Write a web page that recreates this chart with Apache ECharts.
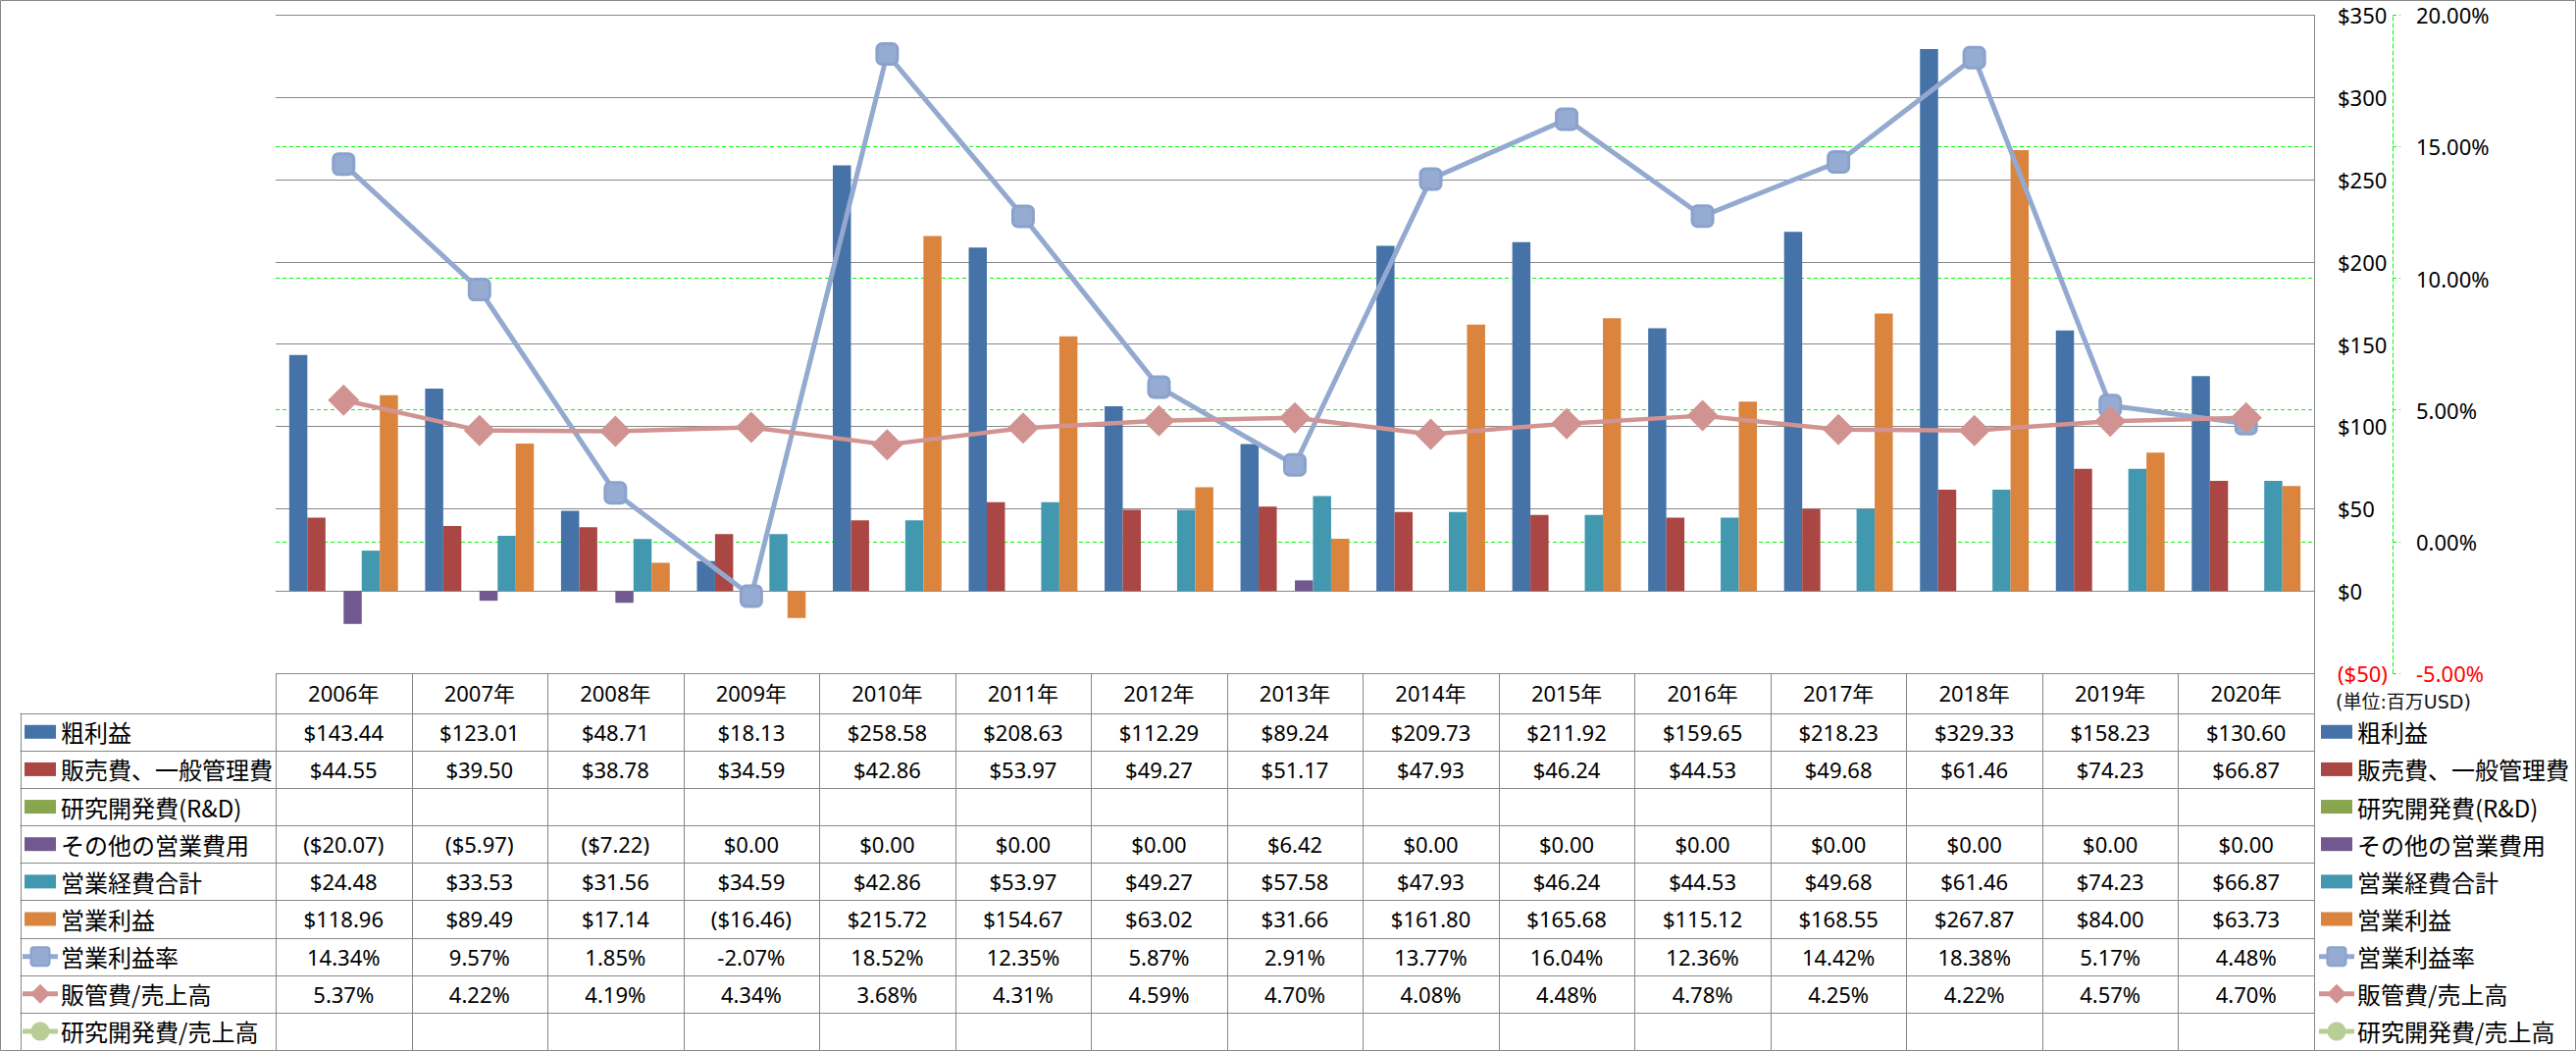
<!DOCTYPE html>
<html><head><meta charset="utf-8">
<script src="https://cdn.jsdelivr.net/npm/echarts@6/dist/echarts.min.js"></script>
<style>html,body{margin:0;padding:0;background:#fff}#c{width:2626px;height:1071px}</style>
</head><body><div id="c"></div>
<script>
// ---- data ----
const years = ['2006年','2007年','2008年','2009年','2010年','2011年','2012年','2013年','2014年','2015年','2016年','2017年','2018年','2019年','2020年'];
const grossProfit = [143.44,123.01,48.71,18.13,258.58,208.63,112.29,89.24,209.73,211.92,159.65,218.23,329.33,158.23,130.60];
const sgaExpense = [44.55,39.50,38.78,34.59,42.86,53.97,49.27,51.17,47.93,46.24,44.53,49.68,61.46,74.23,66.87];
const rndExpense = [null,null,null,null,null,null,null,null,null,null,null,null,null,null,null];
const otherOpex = [-20.07,-5.97,-7.22,0,0,0,0,6.42,0,0,0,0,0,0,0];
const totalOpex = [24.48,33.53,31.56,34.59,42.86,53.97,49.27,57.58,47.93,46.24,44.53,49.68,61.46,74.23,66.87];
const opIncome = [118.96,89.49,17.14,-16.46,215.72,154.67,63.02,31.66,161.80,165.68,115.12,168.55,267.87,84.00,63.73];
const opMargin = [14.34,9.57,1.85,-2.07,18.52,12.35,5.87,2.91,13.77,16.04,12.36,14.42,18.38,5.17,4.48];
const sgaRatio = [5.37,4.22,4.19,4.34,3.68,4.31,4.59,4.70,4.08,4.48,4.78,4.25,4.22,4.57,4.70];
const rndRatio = [null,null,null,null,null,null,null,null,null,null,null,null,null,null,null];
const seriesNames = ['粗利益','販売費、一般管理費','研究開発費(R&D)','その他の営業費用','営業経費合計','営業利益','営業利益率','販管費/売上高','研究開発費/売上高'];
const unitLabel = '(単位:百万USD)';
const dollarAxis = {min: -50, max: 350, interval: 50};
const pctAxis = {min: -5, max: 20, interval: 5};

// ---- layout / style ----
const W = 2626, H = 1071;
const gL = 281, gR = 2359, gT = 15.3, gB = 686;
const colW = (gR - gL) / years.length;
const tblTop = 686, hdrBottom = 726.7, rowH = (1070 - 726.7) / 9, labelLeft = 20.5;
const FONT = '"Noto Sans", "Noto Sans CJK JP", sans-serif';
const CJKFONT = '"Noto Sans CJK JP", "Noto Sans", sans-serif';
const UNITFONT = '"DejaVu Sans", "Noto Sans CJK JP", sans-serif';
const gridGray = '#888888';
const colors = ['#4572A7','#AA4643','#89A54E','#71588F','#4198AF','#DB843D','#93A9CF','#D09391','#B9CD96'];
const kinds = ['bar','bar','bar','bar','bar','bar','square','diamond','circle'];
const dataRows = [grossProfit, sgaExpense, rndExpense, otherOpex, totalOpex, opIncome, opMargin, sgaRatio, rndRatio];

function money(v){ if (v == null) return ''; return v < 0 ? '($' + Math.abs(v).toFixed(2) + ')' : '$' + v.toFixed(2); }
function pct(v){ return v == null ? '' : v.toFixed(2) + '%'; }
const fmts = [money,money,money,money,money,money,pct,pct,pct];

// ---- graphic: table + legend ----
const els = [];
const crisp = v => Math.round(v) + 0.5;
function hline(x1,x2,y){ els.push({type:'line', silent:true, shape:{x1:x1,y1:crisp(y),x2:x2,y2:crisp(y)}, style:{stroke:gridGray,lineWidth:1}, z:10}); }
function vline(x,y1,y2){ els.push({type:'line', silent:true, shape:{x1:crisp(x),y1:y1,x2:crisp(x),y2:y2}, style:{stroke:gridGray,lineWidth:1}, z:10}); }
function text(t,x,y,align,size,font,color){ els.push({type:'text', silent:true, z:11, style:{text:t,x:x,y:y,textAlign:align,textVerticalAlign:'middle',font:size+'px '+(font||FONT),fill:color||'#000'}}); }
function legendIcon(i, x0, cy){
  const c = colors[i];
  if (kinds[i] === 'bar') {
    els.push({type:'rect', silent:true, z:11, shape:{x:x0+2, y:cy-7, width:32, height:14}, style:{fill:c}});
  } else {
    els.push({type:'line', silent:true, z:11, shape:{x1:x0, y1:cy, x2:x0+36, y2:cy}, style:{stroke:c, lineWidth:5}});
    const mx = x0 + 18;
    if (kinds[i] === 'square') els.push({type:'rect', silent:true, z:12, shape:{x:mx-9.5,y:cy-9.5,width:19,height:19,r:3}, style:{fill:'#95ABD2', stroke:'#8AA2CC', lineWidth:2}});
    else if (kinds[i] === 'diamond') els.push({type:'polygon', silent:true, z:12, shape:{points:[[mx,cy-10],[mx+10,cy],[mx,cy+10],[mx-10,cy]]}, style:{fill:c}});
    else els.push({type:'circle', silent:true, z:12, shape:{cx:mx,cy:cy,r:9.5}, style:{fill:c}});
  }
}
// outer border
els.push({type:'rect', silent:true, z:9, shape:{x:0.5,y:0.5,width:W-1,height:H-1}, style:{fill:'none', stroke:gridGray, lineWidth:1}});
// table lines
hline(gL, gR, tblTop);
for (let i = 0; i <= 9; i++) hline(labelLeft, gR, hdrBottom + i*rowH);
vline(labelLeft, hdrBottom, 1070);
for (let j = 0; j <= years.length; j++) vline(gL + j*colW, tblTop, 1070);
// header
years.forEach((y, j) => text(y, gL + (j+0.5)*colW, (tblTop + hdrBottom)/2, 'center', 22));
// rows
for (let i = 0; i < 9; i++) {
  const cy = hdrBottom + (i+0.5)*rowH;
  legendIcon(i, 23, cy);
  text(seriesNames[i], 62, cy, 'left', 24, CJKFONT);
  dataRows[i].forEach((v, j) => text(fmts[i](v), gL + (j+0.5)*colW, cy, 'center', 22));
  // right legend
  legendIcon(i, 2364, cy);
  text(seriesNames[i], 2403, cy, 'left', 24, CJKFONT);
}
text(unitLabel, 2381, 715, 'left', 19, UNITFONT, '#111');

// ---- series ----
const series = [];
for (let i = 0; i < 6; i++) {
  series.push({name: seriesNames[i], type:'bar', data: dataRows[i], yAxisIndex:0, barGap:'0%', barCategoryGap:'20%', itemStyle:{color:colors[i]}, z:3});
}
series.push({name: seriesNames[6], type:'line', data: opMargin, yAxisIndex:1, symbol:'roundRect', symbolSize:21,
  lineStyle:{color:colors[6], width:5}, itemStyle:{color:'#95ABD2', borderColor:'#8AA2CC', borderWidth:3}, z:5});
series.push({name: seriesNames[7], type:'line', data: sgaRatio, yAxisIndex:1, symbol:'diamond', symbolSize:32,
  lineStyle:{color:'#D29393', width:4.5}, itemStyle:{color:colors[7]}, z:6});
series.push({name: seriesNames[8], type:'line', data: rndRatio, yAxisIndex:1, symbol:'circle', symbolSize:20,
  lineStyle:{color:colors[8], width:4}, itemStyle:{color:colors[8]}, z:6});

const option = {
  animation: false,
  backgroundColor: '#fff',
  grid: {left: gL, right: W - gR, top: gT, bottom: H - gB, containLabel: false},
  xAxis: {type:'category', data: years, boundaryGap: true, axisLine:{show:false}, axisTick:{show:false}, axisLabel:{show:false}, splitLine:{show:false}},
  yAxis: [
    {type:'value', position:'right', min:dollarAxis.min, max:dollarAxis.max, interval:dollarAxis.interval,
     axisLine:{show:true, lineStyle:{color:gridGray, width:1}}, axisTick:{show:false},
     axisLabel:{margin:24, fontSize:22, lineHeight:22, fontFamily:FONT,
       formatter: v => v < 0 ? '($' + Math.abs(v) + ')' : '$' + v,
       color: v => Number(v) < 0 ? '#FF0000' : '#000000'},
     splitLine:{show:true, lineStyle:{color:gridGray, width:1}}, z:1},
    {type:'value', position:'right', offset:80, min:pctAxis.min, max:pctAxis.max, interval:pctAxis.interval,
     axisLine:{show:true, lineStyle:{color:'#00FF00', width:1, type:[4,3]}},
     axisTick:{show:true, inside:false, length:8, lineStyle:{color:'#00FF00', width:1, type:[4,3]}},
     axisLabel:{margin:24, fontSize:22, lineHeight:22, fontFamily:FONT,
       formatter: v => v.toFixed(2) + '%',
       color: v => Number(v) < 0 ? '#FF0000' : '#000000'},
     splitLine:{show:true, lineStyle:{color:'#00FF00', width:1, type:[4,3]}}, z:0}
  ],
  legend: {show:false},
  tooltip: {show:false},
  series: series,
  graphic: {elements: els}
};
const chart = echarts.init(document.getElementById('c'), null, {renderer:'svg', width:W, height:H});
chart.setOption(option);
</script></body></html>
